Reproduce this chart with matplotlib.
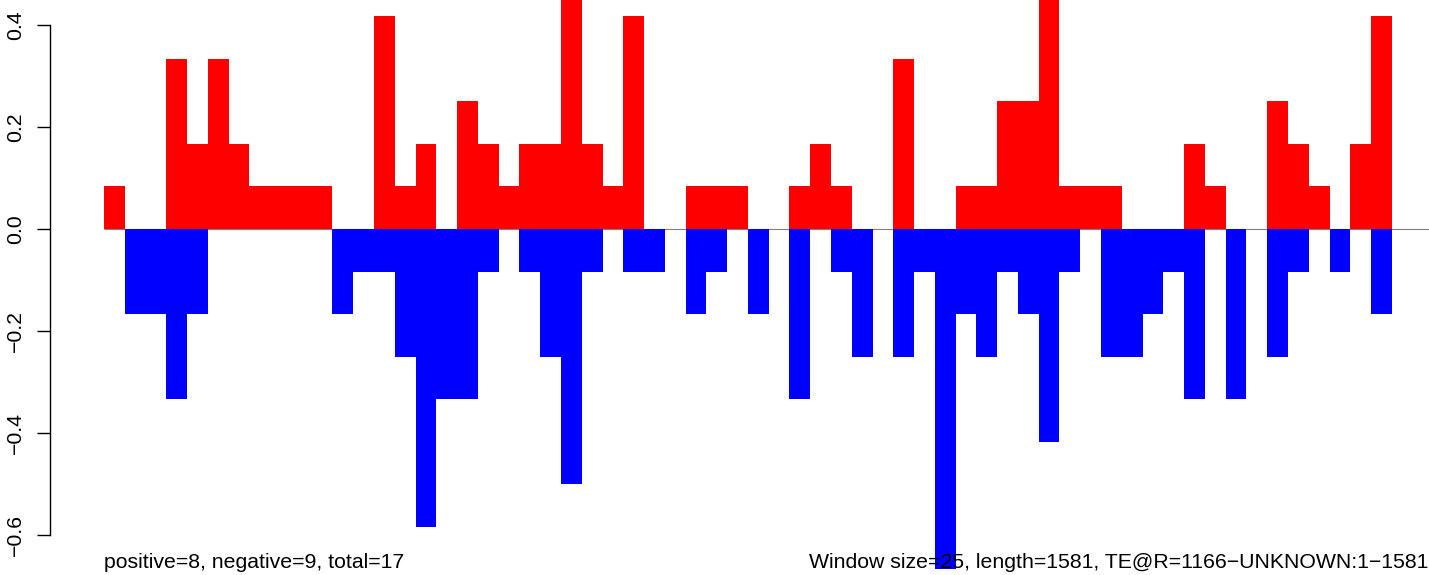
import matplotlib
matplotlib.use('Agg')
import matplotlib.pyplot as plt
import numpy as np

plt.rcParams['font.family'] = ['Liberation Sans', 'DejaVu Sans']

# fraction of positive / negative hits per window (62 windows)
positive = [0.0833, 0, 0, 0.3333, 0.1667, 0.3333, 0.1667, 0.0833, 0.0833, 0.0833,
            0.0833, 0, 0, 0.4167, 0.0833, 0.1667, 0, 0.25, 0.1667, 0.0833,
            0.1667, 0.1667, 0.5, 0.1667, 0.0833, 0.4167, 0, 0, 0.0833, 0.0833,
            0.0833, 0, 0, 0.0833, 0.1667, 0.0833, 0, 0, 0.3333, 0,
            0, 0.0833, 0.0833, 0.25, 0.25, 0.5, 0.0833, 0.0833, 0.0833, 0,
            0, 0, 0.1667, 0.0833, 0, 0, 0.25, 0.1667, 0.0833, 0,
            0.1667, 0.4167]
negative = [0, -0.1667, -0.1667, -0.3333, -0.1667, 0, 0, 0, 0, 0,
            0, -0.1667, -0.0833, -0.0833, -0.25, -0.5833, -0.3333, -0.3333, -0.0833, 0,
            -0.0833, -0.25, -0.5, -0.0833, 0, -0.0833, -0.0833, 0, -0.1667, -0.0833,
            0, -0.1667, 0, -0.3333, 0, -0.0833, -0.25, 0, -0.25, -0.0833,
            -0.6667, -0.1667, -0.25, -0.0833, -0.1667, -0.4167, -0.0833, 0, -0.25, -0.25,
            -0.1667, -0.0833, -0.3333, 0, -0.3333, 0, -0.25, -0.0833, 0, -0.0833,
            0, -0.1667]

left_note = 'positive=8, negative=9, total=17'
right_note = 'Window size=25, length=1581, TE@R=1166\u2212UNKNOWN:1\u22121581'

x = np.arange(len(positive))

fig = plt.figure(figsize=(14.29, 5.75), dpi=100)
ax = fig.add_axes([50.3 / 1429, 0, 1 - 50.3 / 1429, 1])

ax.hlines(0, 0, 64, color='#808080', lw=0.8, zorder=1)
ax.bar(x, positive, width=1, align='edge', color='#FF0000', linewidth=0,
       antialiased=False, zorder=2)
ax.bar(x, negative, width=1, align='edge', color='#0000FF', linewidth=0,
       antialiased=False, zorder=2)

ax.set_xlim(-2.585, 63.79)
ax.set_ylim(-0.6775, 0.4484)

for s in ['top', 'right', 'bottom']:
    ax.spines[s].set_visible(False)
ax.spines['left'].set_bounds(-0.6, 0.4)
ax.spines['left'].set_linewidth(1.0)
ax.set_xticks([])
ax.set_yticks([-0.6, -0.4, -0.2, 0.0, 0.2, 0.4])
ax.set_yticklabels(['\u22120.6', '\u22120.4', '\u22120.2', '0.0', '0.2', '0.4'],
                   rotation=90, va='center', fontsize=15.3)
ax.tick_params(axis='y', length=9.4, width=1.0, pad=9)
ax.patch.set_visible(False)

fig.text(104 / 1429, 7 / 575, left_note, fontsize=15.3, ha='left', va='baseline')
fig.text(1428 / 1429, 7 / 575, right_note, fontsize=15.3, ha='right', va='baseline')

plt.savefig('out.png', dpi=100)
